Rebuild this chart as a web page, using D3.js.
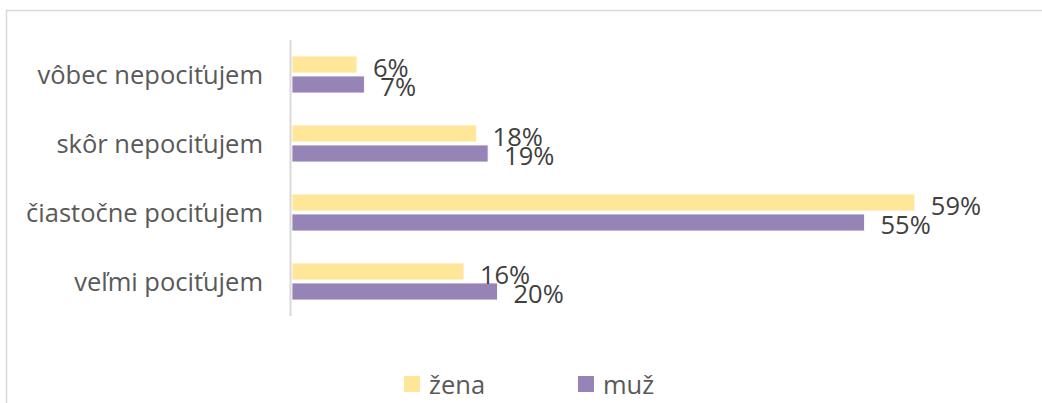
<!DOCTYPE html>
<html>
<head>
<meta charset="utf-8">
<script src="https://cdn.jsdelivr.net/npm/d3@7"></script>
<style>
  body { margin: 0; background: #fff; }
  text { font-family: "Open Sans", sans-serif; }
</style>
</head>
<body>
<script>
// categories top to bottom
var categories = ["vôbec nepociťujem", "skôr nepociťujem", "čiastočne pociťujem", "veľmi pociťujem"];
var seriesNames = ["žena", "muž"];
var zenaValues = [0.062, 0.176, 0.594, 0.164];
var muzValues = [0.069, 0.187, 0.546, 0.196];

var colors = { "žena": "#ffe699", "muž": "#9684b7" };

var svgWidth = 1042;
var svgHeight = 403;
var fontSize = "25.5px";

var svg = d3.select("body")
  .append("svg")
  .attr("width", svgWidth)
  .attr("height", svgHeight);

// chart border (right/bottom run off the page)
svg.append("rect")
  .attr("x", 6.5)
  .attr("y", 10.5)
  .attr("width", 1040)
  .attr("height", 400)
  .attr("fill", "none")
  .attr("stroke", "#d9d9d9")
  .attr("stroke-width", 1.5);

var table = categories.map(function(c, i) {
  return { cat: c, values: [
    { key: "žena", value: zenaValues[i] },
    { key: "muž", value: muzValues[i] }
  ] };
});

//Scales
var xScale = d3.scaleLinear()
  .domain([0, 0.7])
  .range([292, 1026]);

var yScale = d3.scaleBand()
  .domain(categories)
  .range([40, 316])
  .paddingInner(0.464)
  .paddingOuter(0.232);

var ySub = d3.scaleBand()
  .domain(seriesNames)
  .range([0, yScale.bandwidth()])
  .paddingInner(0.15);

var fmt = d3.format(".0%");

// category labels
var leftAxis = d3.axisLeft(yScale).tickSize(0).tickPadding(0);
var axisG = svg.append("g")
  .attr("transform", "translate(263,1)")
  .call(leftAxis);
axisG.select(".domain").remove();
axisG.selectAll("text")
  .attr("font-size", fontSize)
  .attr("fill", "#595959")
  .style("font-family", "'Open Sans', sans-serif");

// bars
var groups = svg.selectAll(".cat")
  .data(table)
  .enter()
  .append("g")
  .attr("class", "cat")
  .attr("transform", d => `translate(0,${yScale(d.cat)})`);

groups.selectAll("rect")
  .data(d => d.values)
  .enter()
  .append("rect")
  .attr("x", xScale(0))
  .attr("y", d => ySub(d.key))
  .attr("width", d => xScale(d.value) - xScale(0))
  .attr("height", ySub.bandwidth())
  .attr("fill", d => colors[d.key])
  .attr("stroke", "#fff")
  .attr("stroke-width", 0.8);

// data labels
groups.selectAll("text.lbl")
  .data(d => d.values)
  .enter()
  .append("text")
  .attr("class", "lbl")
  .attr("x", d => xScale(d.value) + 16)
  .attr("y", d => ySub(d.key) + ySub.bandwidth() / 2 + 2)
  .attr("dominant-baseline", "central")
  .attr("font-size", fontSize)
  .attr("fill", "#404040")
  .text(d => fmt(d.value));

// vertical axis line
svg.append("line")
  .attr("x1", 290.5)
  .attr("x2", 290.5)
  .attr("y1", yScale.range()[0])
  .attr("y2", yScale.range()[1])
  .attr("stroke", "#d9d9d9")
  .attr("stroke-width", 2);

// legend
var legendX = [404, 578];
var legend = svg.selectAll(".legend")
  .data(seriesNames)
  .enter()
  .append("g")
  .attr("class", "legend")
  .attr("transform", (d, i) => `translate(${legendX[i]},376)`);

legend.append("rect")
  .attr("width", 16)
  .attr("height", 16)
  .attr("fill", d => colors[d]);

legend.append("text")
  .attr("x", 25)
  .attr("y", 8)
  .attr("dominant-baseline", "central")
  .attr("font-size", fontSize)
  .attr("fill", "#595959")
  .text(d => d);
</script>
</body>
</html>
